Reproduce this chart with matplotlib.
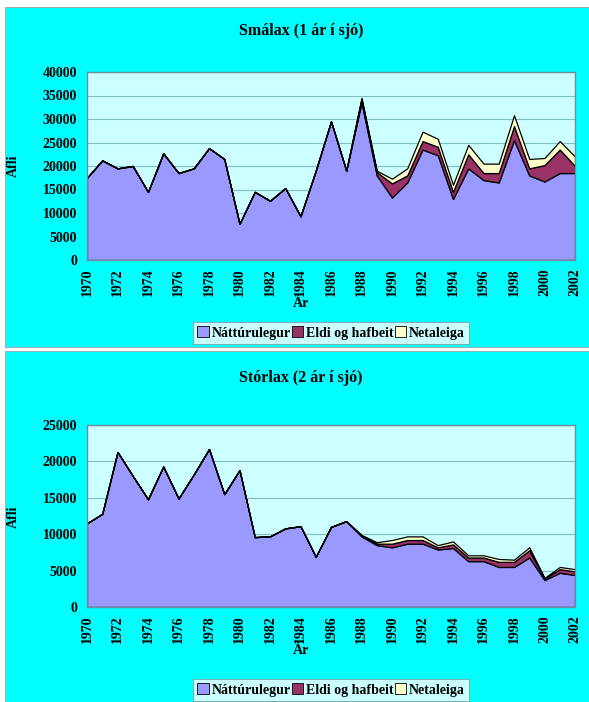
import matplotlib
matplotlib.use("Agg")
import matplotlib.pyplot as plt
from matplotlib.patches import Rectangle, Patch
import numpy as np

plt.rcParams['font.family'] = ['Liberation Serif', 'DejaVu Serif']
plt.rcParams['font.weight'] = 'bold'

years = list(range(1970, 2003))

# Smálax (1 ár í sjó)
sma_natt = [17500, 21200, 19500, 20000, 14500, 22700, 18500, 19500, 23800, 21500,
            7700, 14500, 12600, 15300, 9300, 19000, 29500, 19000, 33500, 18000,
            13300, 16500, 23500, 22300, 13000, 19500, 17000, 16500, 25500, 18000,
            16700, 18500, 18500]
sma_eldi = [0, 0, 0, 0, 0, 0, 0, 0, 0, 0,
            0, 0, 0, 0, 0, 0, 0, 0, 700, 700,
            3000, 1500, 1800, 1800, 1500, 3000, 1500, 2000, 3000, 1500,
            3500, 5000, 1500]
sma_net = [0, 0, 0, 0, 0, 0, 0, 0, 0, 0,
           0, 0, 0, 0, 0, 0, 0, 0, 300, 300,
           1000, 1500, 2000, 1700, 1500, 2000, 2000, 2000, 2300, 2000,
           1500, 1800, 2000]

# Stórlax (2 ár í sjó)
sto_natt = [11500, 12800, 21300, 18000, 14800, 19300, 14900, 18200, 21700, 15500,
            18800, 9600, 9700, 10800, 11100, 6900, 11000, 11800, 9700, 8500,
            8200, 8700, 8700, 7900, 8100, 6300, 6300, 5500, 5500, 6800,
            3700, 4700, 4400]
sto_eldi = [0, 0, 0, 0, 0, 0, 0, 0, 0, 0,
            0, 0, 0, 0, 0, 0, 0, 0, 100, 200,
            500, 500, 500, 300, 500, 500, 500, 700, 700, 1000,
            200, 500, 500]
sto_net = [0, 0, 0, 0, 0, 0, 0, 0, 0, 0,
           0, 0, 0, 0, 0, 0, 0, 0, 100, 200,
           500, 500, 500, 300, 400, 300, 300, 400, 300, 400,
           100, 300, 300]

labels = ['Náttúrulegur', 'Eldi og hafbeit', 'Netaleiga']
colors = ['#9999FF', '#993366', '#FFFFCC']
W, H = 589, 702

fig = plt.figure(figsize=(W / 100, H / 100), dpi=100)
fig.patch.set_facecolor('white')

# cyan panel backgrounds
for (x0, y0, x1, y1) in [(5, 7, 589, 347), (5, 351, 589, 702)]:
    fig.patches.append(Rectangle((x0 / W, 1 - y1 / H), (x1 - x0) / W, (y1 - y0) / H,
                                 transform=fig.transFigure, facecolor='#00FFFF',
                                 edgecolor='#a0a0a0', lw=0.6, zorder=-5))


def fx(px):
    return px / W


def fy(py):
    return 1 - py / H


def panel(rect, title, title_y, natt, eldi, net, ymax, step, ar_y, afli_y, leg_y):
    ax = fig.add_axes(rect)
    ax.set_facecolor('#CCFFFF')
    ax.stackplot(years, natt, eldi, net, colors=colors, edgecolor='black',
                 linewidth=0.9, labels=labels, zorder=2)
    ax.set_xlim(years[0], years[-1])
    ax.set_ylim(0, ymax)
    ax.set_yticks(np.arange(0, ymax + 1, step))
    ax.set_xticks(years[::2])
    ax.tick_params(axis='x', labelrotation=90, labelsize=10, length=0, pad=6)
    ax.tick_params(axis='y', labelsize=10, length=0, pad=7)
    ax.yaxis.grid(True, color='#7fbfbf', lw=0.8, zorder=1)
    ax.set_axisbelow(True)
    for s in ax.spines.values():
        s.set_color('#6a8f9a')
        s.set_linewidth(1)
    fig.text(fx(301), fy(title_y), title, ha='center', va='center',
             fontsize=11.5, fontweight='bold')
    fig.text(fx(301), fy(ar_y), 'Ár', ha='center', va='center',
             fontsize=10, fontweight='bold')
    fig.text(fx(13), fy(afli_y), 'Afli', ha='center', va='center', rotation=90,
             fontsize=10, fontweight='bold')
    handles = [Patch(facecolor=c, edgecolor='black', lw=0.6) for c in colors]
    leg = fig.legend(handles, labels, loc='center', bbox_to_anchor=(fx(331), fy(leg_y)),
                     ncol=3, fontsize=10, frameon=True, fancybox=False,
                     handlelength=0.8, handleheight=0.8, handletextpad=0.2,
                     columnspacing=0.1, borderpad=0.35, borderaxespad=0)
    leg.get_frame().set_edgecolor('#888888')
    leg.get_frame().set_linewidth(0.6)
    return ax


panel([fx(87), fy(260), fx(575) - fx(87), 188 / H], 'Smálax (1 ár í sjó)', 31,
      sma_natt, sma_eldi, sma_net, 40000, 5000, 304, 166, 333)
panel([fx(87), fy(607), fx(575) - fx(87), 182 / H], 'Stórlax (2 ár í sjó)', 378,
      sto_natt, sto_eldi, sto_net, 25000, 5000, 651, 517, 690)

fig.savefig('out.png', dpi=100, facecolor=fig.get_facecolor())
